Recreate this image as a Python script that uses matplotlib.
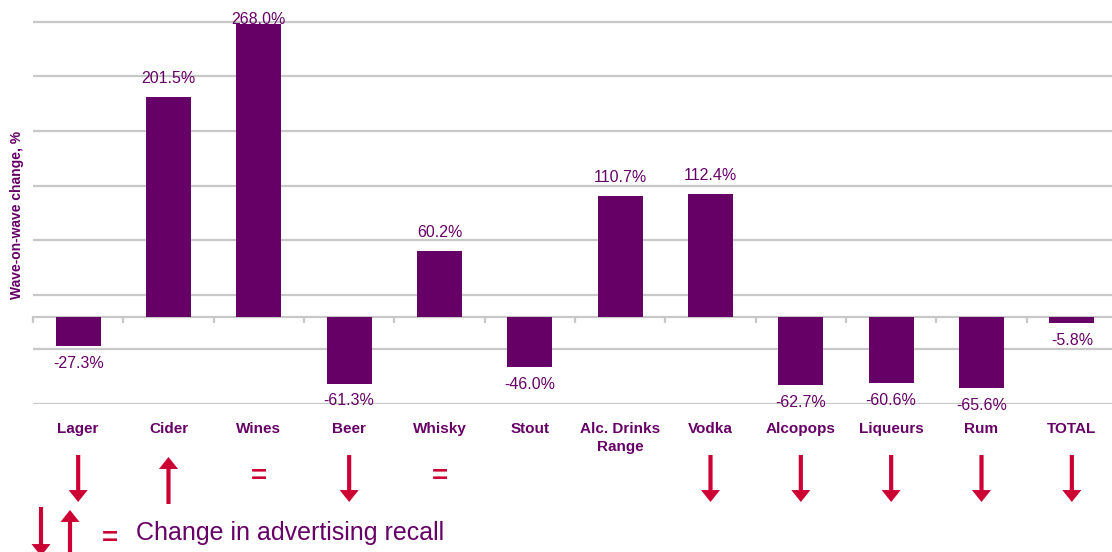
import matplotlib
matplotlib.use("Agg")
import matplotlib.pyplot as plt
import numpy as np

plt.rcParams['font.family'] = ['Liberation Sans', 'DejaVu Sans']

# wave-on-wave change per drinks category, %
categories = ['Lager', 'Cider', 'Wines', 'Beer', 'Whisky', 'Stout',
              'Alc. Drinks\nRange', 'Vodka', 'Alcopops', 'Liqueurs', 'Rum', 'TOTAL']
changes = [-27.3, 201.5, 268.0, -61.3, 60.2, -46.0,
           110.7, 112.4, -62.7, -60.6, -65.6, -5.8]
# change in advertising recall: up / down / equal / none
recall = ['down', 'up', 'equal', 'down', 'equal', None,
          None, 'down', 'down', 'down', 'down', 'down']

PURPLE = '#660066'
RED = '#cc0033'
GRID = '#c8c8c8'

W, H = 1112, 552
fig = plt.figure(figsize=(W / 100, H / 100), dpi=100)
ax = fig.add_axes([33 / W, 1 - 404 / H, 1084 / W, 404 / H])

x = np.arange(len(categories))
ax.bar(x, changes, width=0.5, color=PURPLE, zorder=3)

ymin, ymax = -80, 290
ax.set_xlim(-0.5, len(categories) - 0.5)
ax.set_ylim(ymin, ymax)

# gridlines every 50 starting from the axis minimum
ax.set_yticks(np.arange(ymin, ymax, 50))
ax.yaxis.grid(True, color=GRID, linewidth=1.6, zorder=0)
ax.tick_params(axis='y', length=0, labelleft=False)
ax.set_axisbelow(True)

for s in ['left', 'right', 'top']:
    ax.spines[s].set_visible(False)
ax.spines['bottom'].set_position(('data', 0))
ax.spines['bottom'].set_color(GRID)
ax.spines['bottom'].set_linewidth(1.6)
ax.set_xticks(x)
ax.set_xticks(np.arange(-0.5, len(categories)), minor=True)
ax.tick_params(axis='x', which='major', length=0, labelbottom=False)
ax.tick_params(axis='x', which='minor', length=4.5, width=1.6, color=GRID,
               direction='out')

# value labels
for i, v in enumerate(changes):
    if v >= 0:
        off = 8 if v + 26 < ymax else -2
        ax.annotate(f'{v:.1f}%', xy=(i, v), xytext=(0, off), textcoords='offset points',
                    ha='center', va='bottom', color=PURPLE, fontsize=11.5)
    else:
        ax.annotate(f'{v:.1f}%', xy=(i, v), xytext=(0, -7), textcoords='offset points',
                    ha='center', va='top', color=PURPLE, fontsize=11.5)

# category names under the plot
for i, name in enumerate(categories):
    ax.annotate(name, xy=(i, 0), xycoords=('data', 'axes fraction'),
                xytext=(0, -13), textcoords='offset points',
                ha='center', va='top', color=PURPLE, fontsize=11,
                fontweight='bold', linespacing=1.35)

fig.text(17 / W, 1 - 215 / H, 'Wave-on-wave change, %',
         rotation=90, ha='center', va='center', color=PURPLE,
         fontsize=10, fontweight='bold')

arrow_kw = dict(arrowstyle='simple,head_length=0.86,head_width=1.37,tail_width=0.3',
                color=RED, mutation_scale=10, shrinkA=0, shrinkB=0, lw=0)

# advertising recall markers
for i, r in enumerate(recall):
    if r == 'down':
        ax.annotate('', xy=(i, 1 - 502 / H), xytext=(i, 1 - 455 / H),
                    xycoords=('data', 'figure fraction'), arrowprops=arrow_kw,
                    annotation_clip=False)
    elif r == 'up':
        ax.annotate('', xy=(i, 1 - 457 / H), xytext=(i, 1 - 504 / H),
                    xycoords=('data', 'figure fraction'), arrowprops=arrow_kw,
                    annotation_clip=False)
    elif r == 'equal':
        ax.annotate('=', xy=(i, 1 - 477 / H), xycoords=('data', 'figure fraction'),
                    ha='center', va='center', color=RED, fontsize=20,
                    fontweight='bold', annotation_clip=False)

# key at the bottom
ax.annotate('', xy=(41, H - 556), xytext=(41, H - 507), xycoords='figure pixels',
            arrowprops=arrow_kw, annotation_clip=False)
ax.annotate('', xy=(70, H - 510), xytext=(70, H - 560), xycoords='figure pixels',
            arrowprops=arrow_kw, annotation_clip=False)
fig.text(110 / W, 1 - 539 / H, '=', ha='center', va='center', color=RED,
         fontsize=20, fontweight='bold')
fig.text(136 / W, 1 - 533 / H, 'Change in advertising recall', ha='left',
         va='center', color=PURPLE, fontsize=18)

fig.savefig('out.png', dpi=100)
